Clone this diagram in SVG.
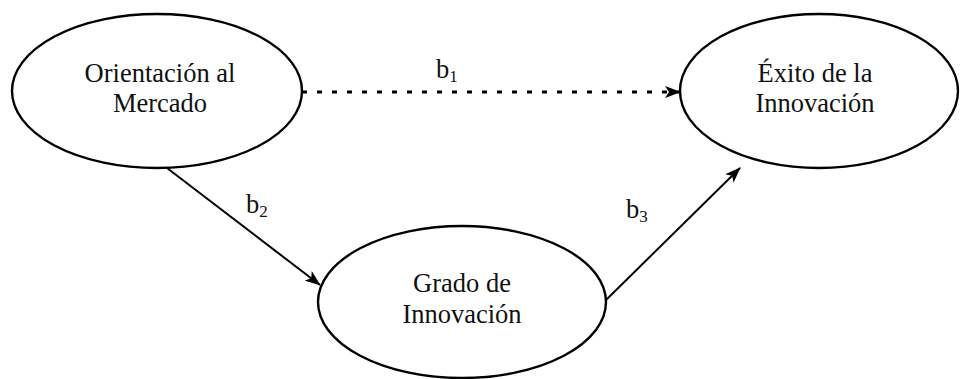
<svg xmlns="http://www.w3.org/2000/svg" width="960" height="379" viewBox="0 0 960 379">
<style>
.node ellipse{fill:#fff;stroke:#000;stroke-width:2.4}
text{font-family:"Liberation Serif","Times New Roman",Times,serif;font-size:26.5px;fill:#111;text-anchor:middle}
.lbl{text-anchor:start}
.sub{font-size:17px}
.conn line{stroke:#000;stroke-width:2}
.conn line.dash{stroke-width:2.8}
</style>
<defs>
<marker id="ah" markerWidth="16" markerHeight="12" refX="15" refY="6" orient="auto" markerUnits="userSpaceOnUse">
<path d="M0,0 L16,6 L0,12 L4,6 Z" fill="#000"/>
</marker>
</defs>
<rect width="960" height="379" fill="#fff"/>
<g id="n1" class="node">
<ellipse cx="157" cy="91" rx="145" ry="77"/>
<text x="160" y="82">Orientación al</text>
<text x="160" y="112">Mercado</text>
</g>
<g id="n2" class="node">
<ellipse cx="819" cy="91" rx="139" ry="77"/>
<text x="815" y="82">Éxito de la</text>
<text x="815" y="112">Innovación</text>
</g>
<g id="n3" class="node">
<ellipse cx="462" cy="302" rx="144" ry="76"/>
<text x="462" y="292">Grado de</text>
<text x="462" y="323">Innovación</text>
</g>
<g id="connectors" class="conn">
<line class="dash" x1="302" y1="92" x2="680" y2="92" stroke-dasharray="5 10" marker-end="url(#ah)"/>
<line x1="167" y1="168" x2="320" y2="285" marker-end="url(#ah)"/>
<line x1="606" y1="300" x2="740" y2="168" marker-end="url(#ah)"/>
<text class="lbl" x="436" y="78">b<tspan class="sub" dy="4">1</tspan></text>
<text class="lbl" x="246" y="213">b<tspan class="sub" dy="4">2</tspan></text>
<text class="lbl" x="626" y="218">b<tspan class="sub" dy="4">3</tspan></text>
</g>
</svg>
